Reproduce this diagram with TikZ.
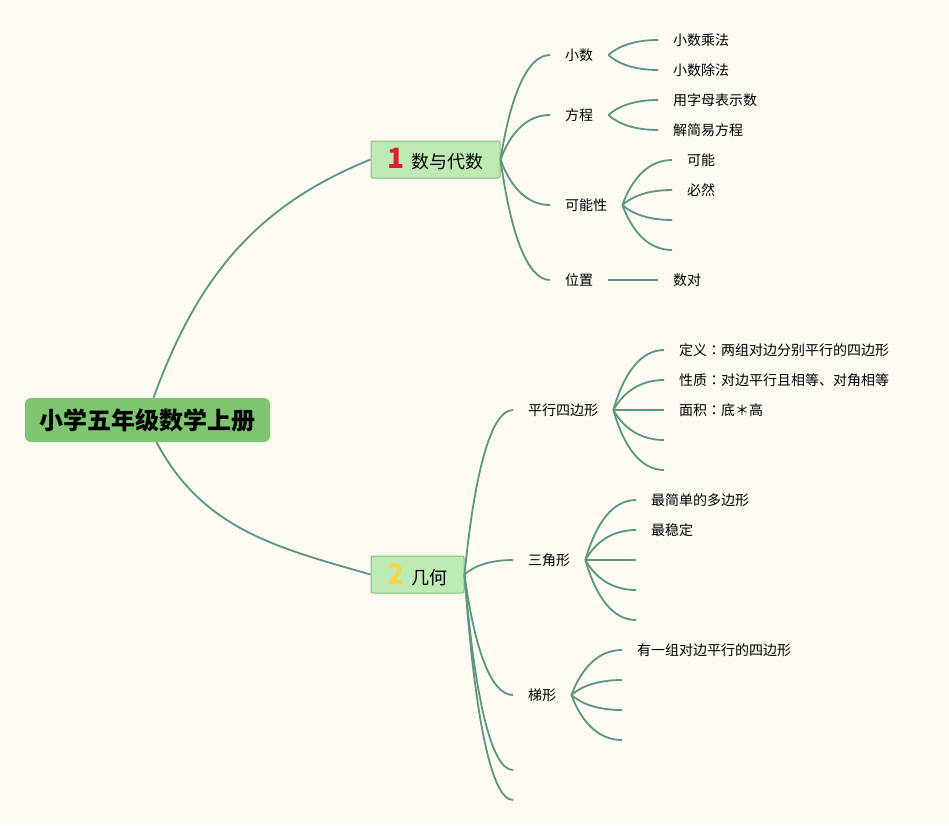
\documentclass[tikz,border=0pt]{standalone}
\usepackage{fontspec}
\setmainfont{Noto Sans CJK SC}
\newfontfamily\tcfont{Noto Sans CJK TC}
\usetikzlibrary{calc}
\definecolor{bgcream}{RGB}{253,251,241}
\definecolor{edgegreen}{RGB}{92,150,130}
\definecolor{rootgreen}{RGB}{125,197,110}
\definecolor{topicfill}{RGB}{190,234,180}
\definecolor{topicline}{RGB}{128,190,128}
\definecolor{numred}{RGB}{222,30,48}
\definecolor{numyellow}{RGB}{246,214,72}
\newcommand\topicnum[2]{{\color{#1}\bfseries\fontsize{28}{28}\selectfont #2}\hspace{6pt}}
\newcommand\widecolon{{\tcfont ：}}
\begin{document}
\begin{tikzpicture}[x=1pt, y=1pt,
	rootbox/.style={fill=rootgreen, rounded corners=6, minimum width=245, minimum height=44, inner sep=0, font=\bfseries\fontsize{24}{26}\selectfont},
	topic/.style={fill=topicfill, draw=topicline, line width=1, rounded corners=2, minimum height=37, inner sep=2, font=\fontsize{18}{20}\selectfont},
	item/.style={anchor=west, inner xsep=15, inner ysep=2, font=\fontsize{14}{16}\selectfont},
	branch/.style={draw=edgegreen, line width=1.8, to path={let \p1=(\tikztostart), \p2=(\tikztotarget) in .. controls ({\x1+0.2*(\x2-\x1)}, {\y1+0.6*(\y2-\y1)}) and ({\x1+0.533*(\x2-\x1)}, \y2) .. (\tikztotarget)}},
	trunk/.style={draw=edgegreen, line width=1.8}]
	\fill[bgcream] (0, 0) rectangle (949, -825);
	\node[rootbox] (root) at (147.5, -420) {小学五年级数学上册};
	\node[topic, minimum width=129] (algebra) at (435.5, -159.5) {\topicnum{numred}{1}数与代数};
	\node[topic, minimum width=93] (geometry) at (417.5, -574.5) {\topicnum{numyellow}{2}几何};
	\draw[trunk] ([xshift=6]root.north) to[out=70, in=202] (algebra.west);
	\draw[trunk] ([xshift=9]root.south) to[out=-62, in=164] (geometry.west);

	\node[item] (decimal) at (550, -55) {小数};
	\node[item] (equation) at (550, -115) {方程};
	\node[item] (chance) at (550, -205) {可能性};
	\node[item] (place) at (550, -280) {位置};
	\node[item] (decmul) at (658, -40) {小数乘法};
	\node[item] (decdiv) at (658, -70) {小数除法};
	\node[item] (letters) at (658, -100) {用字母表示数};
	\node[item] (solve) at (658, -130) {解简易方程};
	\node[item] (maybe) at (672, -160) {可能};
	\node[item] (surely) at (672, -190) {必然};
	\coordinate (chance3) at (672, -220);
	\coordinate (chance4) at (672, -250);
	\node[item] (pairs) at (658, -280) {数对};

	\node[item] (para) at (513, -410) {平行四边形};
	\node[item] (tri) at (513, -560) {三角形};
	\node[item] (trap) at (513, -695) {梯形};
	\coordinate (geo4) at (513, -770);
	\coordinate (geo5) at (513, -800);
	\node[item] (paradef) at (664, -350) {定义\widecolon 两组对边分别平行的四边形};
	\node[item] (paraprop) at (664, -380) {性质\widecolon 对边平行且相等、对角相等};
	\node[item] (paraarea) at (664, -410) {面积\widecolon 底＊高};
	\coordinate (para4) at (664, -440);
	\coordinate (para5) at (664, -470);
	\node[item] (trisimple) at (636, -500) {最简单的多边形};
	\node[item] (tristable) at (636, -530) {最稳定};
	\coordinate (tri3) at (636, -560);
	\coordinate (tri4) at (636, -590);
	\coordinate (tri5) at (636, -620);
	\node[item] (trapdef) at (622, -650) {有一组对边平行的四边形};
	\coordinate (trap2) at (622, -680);
	\coordinate (trap3) at (622, -710);
	\coordinate (trap4) at (622, -740);

	\foreach \kid in {decimal, equation, chance, place}
		\draw[branch] (algebra.east) to (\kid.west);
	\draw[branch] (decimal.east) to (decmul.west);
	\draw[branch] (decimal.east) to (decdiv.west);
	\draw[branch] (equation.east) to (letters.west);
	\draw[branch] (equation.east) to (solve.west);
	\draw[branch] (chance.east) to (maybe.west);
	\draw[branch] (chance.east) to (surely.west);
	\draw[branch] (chance.east) to (chance3);
	\draw[branch] (chance.east) to (chance4);
	\draw[branch] (place.east) to (pairs.west);

	\foreach \kid in {para.west, tri.west, trap.west, geo4, geo5}
		\draw[branch] (geometry.east) to (\kid);
	\foreach \kid in {paradef.west, paraprop.west, paraarea.west, para4, para5}
		\draw[branch] (para.east) to (\kid);
	\foreach \kid in {trisimple.west, tristable.west, tri3, tri4, tri5}
		\draw[branch] (tri.east) to (\kid);
	\foreach \kid in {trapdef.west, trap2, trap3, trap4}
		\draw[branch] (trap.east) to (\kid);
\end{tikzpicture}
\end{document}
